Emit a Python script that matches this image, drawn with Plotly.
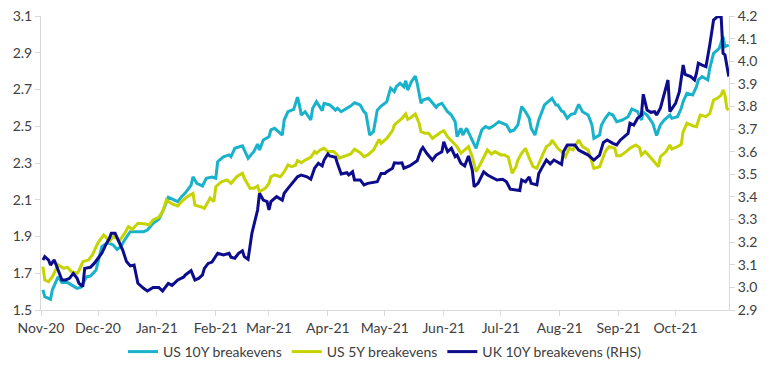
import plotly.graph_objects as go

# ---------------- data ----------------
us10_dates = [
    "2020-11-02","2020-11-03","2020-11-06","2020-11-07","2020-11-10","2020-11-12","2020-11-15","2020-11-17",
    "2020-11-20","2020-11-22","2020-11-25","2020-11-27","2020-11-30","2020-12-03","2020-12-06","2020-12-09",
    "2020-12-11","2020-12-13","2020-12-15","2020-12-18","2020-12-21","2020-12-25","2020-12-27","2020-12-30",
    "2021-01-02","2021-01-04","2021-01-07","2021-01-09","2021-01-12","2021-01-14","2021-01-16","2021-01-19",
    "2021-01-20","2021-01-22","2021-01-25","2021-01-27","2021-01-30","2021-02-01","2021-02-02","2021-02-05",
    "2021-02-08","2021-02-09","2021-02-11","2021-02-15","2021-02-16","2021-02-18","2021-02-21","2021-02-23",
    "2021-02-24","2021-02-26","2021-03-01","2021-03-02","2021-03-04","2021-03-06","2021-03-08","2021-03-09",
    "2021-03-11","2021-03-14","2021-03-16","2021-03-17","2021-03-18","2021-03-20","2021-03-23","2021-03-24",
    "2021-03-26","2021-03-29","2021-03-30","2021-04-02","2021-04-05","2021-04-06","2021-04-08","2021-04-11",
    "2021-04-13","2021-04-15","2021-04-18","2021-04-20","2021-04-21","2021-04-23","2021-04-25","2021-04-27",
    "2021-04-29","2021-05-01","2021-05-02","2021-05-04","2021-05-06","2021-05-07","2021-05-09","2021-05-11",
    "2021-05-12","2021-05-13","2021-05-15","2021-05-17","2021-05-18","2021-05-20","2021-05-21","2021-05-24",
    "2021-05-26","2021-05-28","2021-05-29","2021-05-31","2021-06-03","2021-06-05","2021-06-07","2021-06-08",
    "2021-06-10","2021-06-11","2021-06-13","2021-06-15","2021-06-18","2021-06-19","2021-06-21","2021-06-23",
    "2021-06-25","2021-06-27","2021-06-30","2021-07-02","2021-07-04","2021-07-06","2021-07-08","2021-07-10",
    "2021-07-12","2021-07-14","2021-07-16","2021-07-17","2021-07-19","2021-07-21","2021-07-23","2021-07-24",
    "2021-07-26","2021-07-28","2021-07-30","2021-07-31","2021-08-02","2021-08-03","2021-08-05","2021-08-07",
    "2021-08-09","2021-08-11","2021-08-13","2021-08-16","2021-08-18","2021-08-19","2021-08-22","2021-08-23",
    "2021-08-25","2021-08-27","2021-08-29","2021-08-31","2021-09-03","2021-09-06","2021-09-08","2021-09-11",
    "2021-09-13","2021-09-14","2021-09-16","2021-09-19","2021-09-21","2021-09-23","2021-09-25","2021-09-28",
    "2021-09-29","2021-10-02","2021-10-04","2021-10-05","2021-10-07","2021-10-10","2021-10-12","2021-10-13",
    "2021-10-15","2021-10-18","2021-10-19","2021-10-21","2021-10-24","2021-10-26","2021-10-27","2021-10-29",
]
us10_values = [
    1.61,1.573,1.558,1.61,1.681,1.649,1.649,1.636,
    1.618,1.624,1.681,1.685,1.718,1.845,1.866,1.854,
    1.83,1.845,1.881,1.926,1.926,1.926,1.935,1.972,
    1.994,2.035,2.113,2.102,2.09,2.117,2.138,2.18,
    2.225,2.189,2.175,2.217,2.224,2.217,2.307,2.334,
    2.344,2.334,2.38,2.393,2.371,2.326,2.362,2.403,
    2.371,2.425,2.443,2.48,2.489,2.471,2.452,2.534,
    2.579,2.592,2.658,2.616,2.561,2.579,2.534,2.598,
    2.634,2.585,2.625,2.616,2.588,2.598,2.579,2.598,
    2.61,2.628,2.616,2.579,2.57,2.452,2.471,2.588,
    2.61,2.625,2.634,2.707,2.688,2.715,2.734,2.715,
    2.748,2.697,2.743,2.773,2.734,2.625,2.643,2.652,
    2.625,2.603,2.616,2.625,2.579,2.561,2.525,2.443,
    2.489,2.452,2.489,2.443,2.38,2.416,2.48,2.498,
    2.489,2.501,2.525,2.516,2.507,2.471,2.48,2.507,
    2.607,2.579,2.543,2.489,2.452,2.534,2.588,2.616,
    2.634,2.652,2.616,2.616,2.583,2.579,2.543,2.565,
    2.57,2.619,2.579,2.561,2.507,2.434,2.452,2.507,
    2.543,2.57,2.561,2.525,2.534,2.552,2.594,2.579,
    2.534,2.576,2.561,2.516,2.449,2.507,2.534,2.561,
    2.543,2.552,2.598,2.634,2.679,2.67,2.715,2.752,
    2.77,2.752,2.815,2.897,2.924,2.987,2.933,2.942,
]

us5_dates = [
    "2020-11-02","2020-11-03","2020-11-05","2020-11-07","2020-11-10","2020-11-13","2020-11-15","2020-11-17",
    "2020-11-20","2020-11-21","2020-11-23","2020-11-26","2020-11-28","2020-12-01","2020-12-04","2020-12-05",
    "2020-12-07","2020-12-09","2020-12-11","2020-12-12","2020-12-15","2020-12-17","2020-12-19","2020-12-22",
    "2020-12-26","2020-12-28","2020-12-30","2021-01-02","2021-01-04","2021-01-06","2021-01-09","2021-01-12",
    "2021-01-14","2021-01-17","2021-01-20","2021-01-21","2021-01-24","2021-01-26","2021-01-28","2021-01-29",
    "2021-01-31","2021-02-01","2021-02-04","2021-02-07","2021-02-09","2021-02-12","2021-02-15","2021-02-16",
    "2021-02-19","2021-02-21","2021-02-23","2021-02-24","2021-02-27","2021-03-01","2021-03-02","2021-03-04",
    "2021-03-07","2021-03-09","2021-03-11","2021-03-13","2021-03-15","2021-03-16","2021-03-18","2021-03-20",
    "2021-03-23","2021-03-25","2021-03-26","2021-03-28","2021-03-30","2021-04-01","2021-04-04","2021-04-06",
    "2021-04-07","2021-04-10","2021-04-13","2021-04-15","2021-04-18","2021-04-20","2021-04-22","2021-04-25",
    "2021-04-28","2021-04-29","2021-05-01","2021-05-02","2021-05-05","2021-05-06","2021-05-08","2021-05-10",
    "2021-05-12","2021-05-13","2021-05-15","2021-05-17","2021-05-19","2021-05-20","2021-05-22","2021-05-24",
    "2021-05-26","2021-05-28","2021-05-30","2021-06-01","2021-06-03","2021-06-05","2021-06-08","2021-06-10",
    "2021-06-12","2021-06-14","2021-06-16","2021-06-18","2021-06-20","2021-06-22","2021-06-24","2021-06-26",
    "2021-06-28","2021-07-01","2021-07-03","2021-07-05","2021-07-07","2021-07-09","2021-07-10","2021-07-12",
    "2021-07-14","2021-07-16","2021-07-18","2021-07-20","2021-07-21","2021-07-23","2021-07-25","2021-07-27",
    "2021-07-28","2021-07-30","2021-07-31","2021-08-02","2021-08-04","2021-08-06","2021-08-08","2021-08-11",
    "2021-08-13","2021-08-16","2021-08-18","2021-08-19","2021-08-22","2021-08-23","2021-08-25","2021-08-27",
    "2021-08-30","2021-08-31","2021-09-02","2021-09-05","2021-09-07","2021-09-10","2021-09-12","2021-09-13",
    "2021-09-15","2021-09-18","2021-09-21","2021-09-22","2021-09-23","2021-09-26","2021-09-28","2021-09-29",
    "2021-10-02","2021-10-04","2021-10-05","2021-10-07","2021-10-10","2021-10-12","2021-10-14","2021-10-17",
    "2021-10-19","2021-10-21","2021-10-23","2021-10-25","2021-10-26","2021-10-27","2021-10-28","2021-10-29",
]
us5_values = [
    1.736,1.663,1.654,1.681,1.745,1.727,1.732,1.709,
    1.70,1.714,1.763,1.772,1.799,1.866,1.908,1.899,
    1.872,1.899,1.89,1.872,1.917,1.953,1.939,1.972,
    1.968,1.963,1.99,2.004,2.035,2.099,2.077,2.066,
    2.09,2.117,2.135,2.071,2.062,2.053,2.09,2.11,
    2.09,2.171,2.198,2.208,2.189,2.225,2.244,2.217,
    2.162,2.162,2.175,2.144,2.162,2.189,2.225,2.235,
    2.225,2.253,2.289,2.28,2.289,2.313,2.302,2.316,
    2.331,2.362,2.353,2.371,2.38,2.362,2.362,2.344,
    2.326,2.338,2.349,2.375,2.356,2.334,2.344,2.371,
    2.429,2.407,2.425,2.434,2.476,2.507,2.525,2.543,
    2.567,2.538,2.549,2.567,2.516,2.471,2.462,2.462,
    2.434,2.452,2.465,2.476,2.443,2.421,2.389,2.353,
    2.371,2.389,2.334,2.253,2.289,2.334,2.371,2.349,
    2.362,2.344,2.344,2.331,2.244,2.28,2.316,2.353,
    2.38,2.326,2.28,2.271,2.298,2.344,2.389,2.403,
    2.425,2.393,2.38,2.362,2.334,2.38,2.371,2.425,
    2.389,2.371,2.307,2.271,2.28,2.307,2.362,2.389,
    2.38,2.34,2.34,2.362,2.38,2.398,2.384,2.344,
    2.362,2.329,2.293,2.28,2.334,2.362,2.398,2.376,
    2.389,2.402,2.471,2.516,2.503,2.498,2.561,2.552,
    2.57,2.643,2.652,2.67,2.697,2.67,2.598,2.588,
]

uk10_dates = [
    "2020-11-02","2020-11-03","2020-11-05","2020-11-06","2020-11-08","2020-11-10","2020-11-12","2020-11-14",
    "2020-11-16","2020-11-18","2020-11-20","2020-11-21","2020-11-23","2020-11-24","2020-11-27","2020-11-29",
    "2020-12-01","2020-12-03","2020-12-05","2020-12-07","2020-12-08","2020-12-10","2020-12-12","2020-12-14",
    "2020-12-16","2020-12-18","2020-12-20","2020-12-22","2020-12-25","2020-12-27","2020-12-30","2021-01-02",
    "2021-01-04","2021-01-07","2021-01-09","2021-01-12","2021-01-15","2021-01-16","2021-01-19","2021-01-21",
    "2021-01-23","2021-01-25","2021-01-26","2021-01-28","2021-01-30","2021-02-02","2021-02-05","2021-02-08",
    "2021-02-09","2021-02-11","2021-02-13","2021-02-15","2021-02-16","2021-02-18","2021-02-20","2021-02-22",
    "2021-02-23","2021-02-24","2021-02-26","2021-02-28","2021-03-01","2021-03-02","2021-03-05","2021-03-08",
    "2021-03-09","2021-03-11","2021-03-13","2021-03-15","2021-03-16","2021-03-18","2021-03-21","2021-03-23",
    "2021-03-25","2021-03-27","2021-03-29","2021-03-30","2021-04-01","2021-04-02","2021-04-05","2021-04-06",
    "2021-04-08","2021-04-11","2021-04-12","2021-04-14","2021-04-15","2021-04-18","2021-04-20","2021-04-22",
    "2021-04-25","2021-04-27","2021-04-29","2021-05-01","2021-05-02","2021-05-05","2021-05-06","2021-05-08",
    "2021-05-10","2021-05-11","2021-05-14","2021-05-16","2021-05-18","2021-05-20","2021-05-21","2021-05-23",
    "2021-05-26","2021-05-28","2021-05-31","2021-06-01","2021-06-03","2021-06-05","2021-06-07","2021-06-08",
    "2021-06-10","2021-06-12","2021-06-14","2021-06-16","2021-06-17","2021-06-19","2021-06-22","2021-06-24",
    "2021-06-26","2021-06-29","2021-07-02","2021-07-04","2021-07-06","2021-07-09","2021-07-11","2021-07-12",
    "2021-07-14","2021-07-16","2021-07-17","2021-07-20","2021-07-21","2021-07-23","2021-07-25","2021-07-27",
    "2021-07-29","2021-08-02","2021-08-03","2021-08-05","2021-08-09","2021-08-11","2021-08-14","2021-08-16",
    "2021-08-19","2021-08-22","2021-08-24","2021-08-26","2021-08-29","2021-08-31","2021-09-02","2021-09-04",
    "2021-09-06","2021-09-07","2021-09-09","2021-09-11","2021-09-13","2021-09-14","2021-09-16","2021-09-18",
    "2021-09-20","2021-09-21","2021-09-23","2021-09-27","2021-09-28","2021-10-01","2021-10-03","2021-10-05",
    "2021-10-06","2021-10-09","2021-10-11","2021-10-12","2021-10-13","2021-10-15","2021-10-17","2021-10-19",
    "2021-10-21","2021-10-23","2021-10-25","2021-10-26","2021-10-27","2021-10-29",
]
uk10_values = [
    3.121,3.136,3.121,3.099,3.121,3.077,3.033,3.033,
    3.04,3.062,3.04,3.018,3.003,3.084,3.089,3.106,
    3.129,3.151,3.187,3.217,3.239,3.239,3.202,3.165,
    3.114,3.095,3.099,3.018,2.996,2.984,3.0,3.0,
    2.984,3.018,3.009,3.033,3.045,3.055,3.074,3.033,
    3.04,3.055,3.084,3.106,3.112,3.151,3.143,3.151,
    3.133,3.129,3.151,3.162,3.136,3.124,3.239,3.313,
    3.342,3.416,3.386,3.379,3.342,3.379,3.401,3.386,
    3.416,3.438,3.46,3.482,3.489,3.497,3.489,3.478,
    3.527,3.549,3.537,3.563,3.59,3.581,3.575,3.549,
    3.501,3.507,3.497,3.511,3.475,3.475,3.453,3.46,
    3.463,3.467,3.504,3.504,3.511,3.527,3.551,3.549,
    3.551,3.527,3.537,3.549,3.56,3.607,3.619,3.593,
    3.563,3.585,3.60,3.644,3.60,3.615,3.578,3.585,
    3.549,3.537,3.581,3.519,3.445,3.46,3.511,3.497,
    3.489,3.475,3.478,3.467,3.434,3.431,3.428,3.475,
    3.467,3.489,3.46,3.453,3.504,3.534,3.563,3.546,
    3.563,3.544,3.60,3.63,3.63,3.607,3.593,3.585,
    3.563,3.585,3.641,3.652,3.637,3.63,3.652,3.666,
    3.681,3.726,3.718,3.748,3.762,3.854,3.784,3.774,
    3.777,3.762,3.792,3.917,3.777,3.814,3.865,3.983,
    3.942,3.932,3.917,3.947,3.991,3.983,3.976,4.072,
    4.182,4.197,4.197,4.035,4.028,3.932,
]

tick_dates = ["2020-11-01","2020-12-01","2021-01-01","2021-02-01","2021-03-01","2021-04-01",
              "2021-05-01","2021-06-01","2021-07-01","2021-08-01","2021-09-01","2021-10-01"]
tick_labels = ["Nov-20","Dec-20","Jan-21","Feb-21","Mar-21","Apr-21",
               "May-21","Jun-21","Jul-21","Aug-21","Sep-21","Oct-21"]

series_names = ["US 10Y breakevens", "US 5Y breakevens", "UK 10Y breakevens (RHS)"]
colors = ["#19B2CB", "#C5D400", "#0C0C8C"]

# ---------------- figure ----------------
# The page body has an 8px default margin, so the figure is sized to fit
# inside the 770x379 window and its margins are shifted accordingly.
FONT = "Lato, 'Open Sans', sans-serif"
TXT = "#404040"
AX = "#D9D9D9"
W, H = 754, 363

fig = go.Figure()
fig.add_trace(go.Scatter(x=us10_dates, y=us10_values, name=series_names[0], mode="lines",
                         line=dict(color=colors[0], width=3), yaxis="y"))
fig.add_trace(go.Scatter(x=us5_dates, y=us5_values, name=series_names[1], mode="lines",
                         line=dict(color=colors[1], width=3), yaxis="y"))
fig.add_trace(go.Scatter(x=uk10_dates, y=uk10_values, name=series_names[2], mode="lines",
                         line=dict(color=colors[2], width=3), yaxis="y2"))

fig.update_layout(
    width=W, height=H,
    margin=dict(l=33, r=33, t=8, b=61, autoexpand=False),
    paper_bgcolor="white", plot_bgcolor="white",
    font=dict(family=FONT, size=14, color=TXT),
    showlegend=True,
    legend=dict(orientation="h", x=0.5, xanchor="center",
                yref="container", y=19 / H, yanchor="middle",
                font=dict(family=FONT, size=14, color=TXT), itemwidth=30,
                bgcolor="rgba(0,0,0,0)"),
    xaxis=dict(type="date", range=["2020-11-01", "2021-10-29 03:00"],
               tickvals=tick_dates, ticktext=tick_labels, automargin=False,
               showgrid=False, zeroline=False, ticklabeloverflow="allow",
               showline=True, linecolor=AX, linewidth=1,
               ticks="outside", ticklen=5, tickcolor=AX,
               tickfont=dict(family=FONT, size=14, color=TXT)),
    yaxis=dict(range=[1.5, 3.1], dtick=0.2, tick0=1.5, tickformat=".1f", automargin=False,
               showgrid=False, zeroline=False, ticklabeloverflow="allow",
               showline=True, linecolor=AX, linewidth=1,
               ticks="outside", ticklen=5, tickcolor=AX,
               tickfont=dict(family=FONT, size=14, color=TXT)),
    yaxis2=dict(range=[2.9, 4.2], dtick=0.1, tick0=2.9, tickformat=".1f",
                overlaying="y", side="right", anchor="x", automargin=False,
                showgrid=False, zeroline=False, ticklabeloverflow="allow",
                showline=True, linecolor=AX, linewidth=1,
                ticks="outside", ticklen=5, tickcolor=AX,
                tickfont=dict(family=FONT, size=14, color=TXT)),
)

fig.write_html("out.html")
